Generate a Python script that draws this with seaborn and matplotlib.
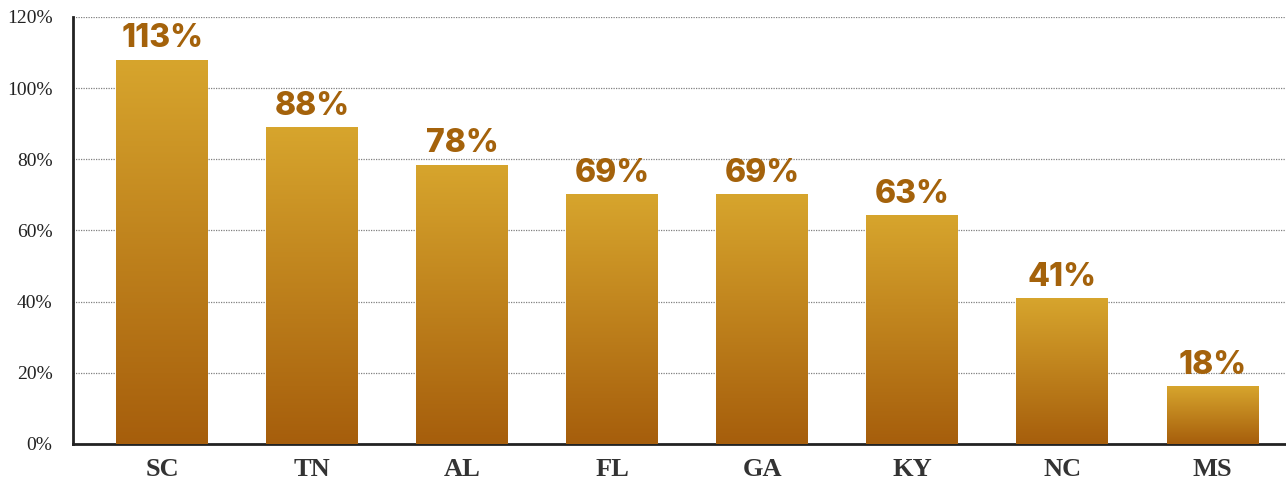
import numpy as np
import pandas as pd
import seaborn as sns
import matplotlib.pyplot as plt
from matplotlib.colors import LinearSegmentedColormap

states = ['SC', 'TN', 'AL', 'FL', 'GA', 'KY', 'NC', 'MS']
bar_heights = [108, 89, 78.4, 70.2, 70.2, 64.3, 40.9, 16.2]
bar_labels = ['113%', '88%', '78%', '69%', '69%', '63%', '41%', '18%']
y_ticks = [0, 20, 40, 60, 80, 100, 120]

df = pd.DataFrame({'state': states, 'pct': bar_heights})

sns.set_style('white')
plt.rcParams['font.family'] = ['Liberation Serif', 'DejaVu Serif']

fig, ax = plt.subplots(figsize=(12.86, 4.82), dpi=100)
fig.subplots_adjust(left=0.057, right=1.0, top=0.965, bottom=0.079)

sns.barplot(data=df, x='state', y='pct', ax=ax, width=0.613,
            color='#C88A20', saturation=1, zorder=3)

# vertical gold -> brown gradient clipped to each bar
grad = LinearSegmentedColormap.from_list('gold', ['#A65E0C', '#D7A52D'])
ramp = np.linspace(0, 1, 256).reshape(-1, 1)
for p in ax.patches:
    x0, y0 = p.get_x(), p.get_y()
    w, h = p.get_width(), p.get_height()
    im = ax.imshow(ramp, cmap=grad, origin='lower', aspect='auto',
                   extent=[x0, x0 + w, y0, y0 + h], zorder=3.5)
    im.set_clip_path(p)
    p.set_edgecolor('none')

for p, lab in zip(ax.patches, bar_labels):
    ax.annotate(lab, (p.get_x() + p.get_width() / 2, p.get_height()),
                xytext=(0, 9), textcoords='offset points', ha='center', va='baseline',
                fontsize=23, fontweight='heavy', color='#A4620B',
                family=['Inter', 'DejaVu Sans'], zorder=5)

ax.set_xlim(-0.593, 7.49)
ax.set_ylim(0, 120)
ax.set_yticks(y_ticks)
ax.set_yticklabels([f'{t}%' for t in y_ticks], fontsize=14, color='#222222')
ax.set_xticks(range(len(states)))
ax.set_xticklabels(states, fontsize=19, fontweight='bold', color='#333333')
ax.tick_params(axis='x', length=0, pad=10)
ax.tick_params(axis='y', length=0, pad=15)
ax.set_xlabel('')
ax.set_ylabel('')

ax.yaxis.grid(True, linestyle=(0, (1, 1)), color='#808080', linewidth=0.9, zorder=0)
ax.set_axisbelow(True)
for s in ['top', 'right']:
    ax.spines[s].set_visible(False)
for s in ['left', 'bottom']:
    ax.spines[s].set_color('#222222')
    ax.spines[s].set_linewidth(2)

fig.savefig('out.png', dpi=100)
